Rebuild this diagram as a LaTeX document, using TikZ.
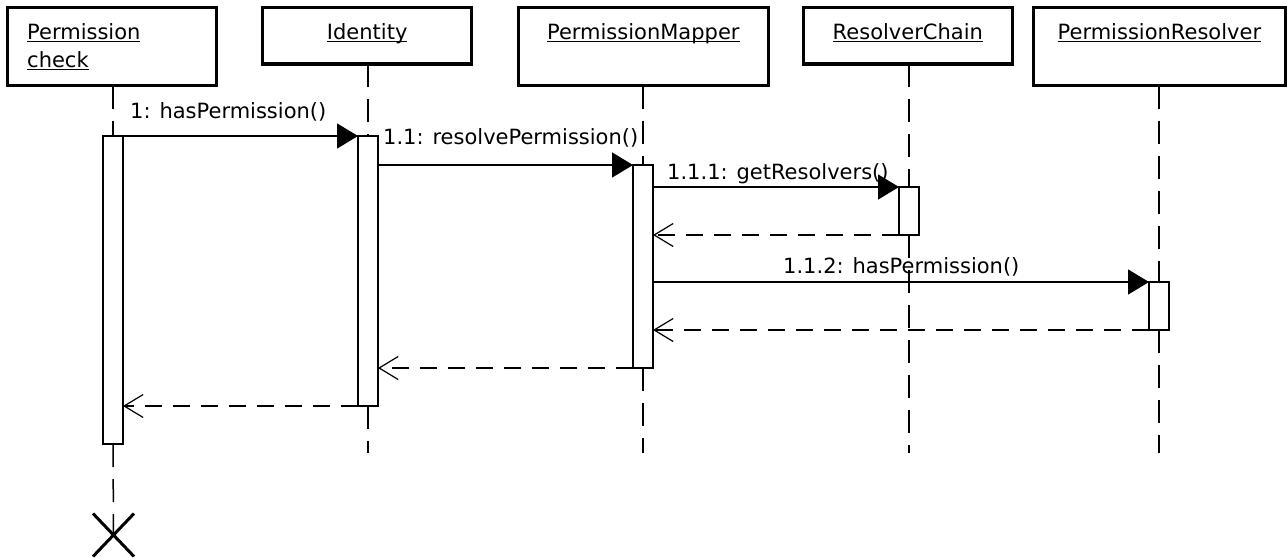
\documentclass[tikz,border=0pt]{standalone}
\usepackage{fontspec}
\setmainfont{DejaVu Sans}
\usetikzlibrary{arrows.meta,shapes.misc}
\newcommand\ulin[1]{\setbox0\hbox{#1}\rlap{\rule[-2.8pt]{\wd0}{1.2pt}}\box0}
\begin{document}
\begin{tikzpicture}[x=1pt,y=-1pt,
  headbox/.style={draw, line width=3.3pt, inner sep=0pt, outer sep=0pt},
  lbl/.style={inner sep=0pt, font=\fontsize{21}{27}\selectfont},
  act/.style={draw, fill=white, line width=1.5pt, minimum width=20pt, inner sep=0pt, outer sep=0pt, anchor=north},
  life/.style={line width=1.5pt, dash pattern=on 23pt off 12pt},
  call/.style={line width=1.5pt, -{Triangle[length=21pt,width=25pt]}},
  ret/.style={line width=1.5pt, dash pattern=on 17pt off 11pt, -{Straight Barb[length=19pt,width=23pt,line width=1.2pt]}},
  killmark/.style={draw, cross out, line width=3pt, minimum width=38pt, minimum height=40pt, inner sep=0pt}
]
\useasboundingbox (0,0) rectangle (1287,557);

% header boxes
\node[headbox, minimum width=208.8pt, minimum height=77.8pt] (hpc) at (112.1,46.6) {};
\node[headbox, minimum width=209pt, minimum height=56.3pt] (hid) at (367.2,35.85) {};
\node[headbox, minimum width=250pt, minimum height=77.8pt] (hpm) at (643.3,46.6) {};
\node[headbox, minimum width=209pt, minimum height=56.3pt] (hrc) at (907.8,35.85) {};
\node[headbox, minimum width=252pt, minimum height=77.8pt] (hpr) at (1159.3,46.6) {};

% header texts
\node[lbl, anchor=base west] (tpc1) at (27,39) {\ulin{Permission}};
\node[lbl, anchor=base west] (tpc2) at (27,67) {\ulin{check}};
\node[lbl, anchor=base] (tid) at (367.2,39) {\ulin{Identity}};
\node[lbl, anchor=base] (tpm) at (643.3,39) {\ulin{PermissionMapper}};
\node[lbl, anchor=base] (trc) at (907.8,39) {\ulin{ResolverChain}};
\node[lbl, anchor=base] (tpr) at (1159.4,39) {\ulin{PermissionResolver}};

% end points of lifelines
\node[killmark] (kill) at (113.5,535) {};
\coordinate (eid) at (368,453);
\coordinate (epm) at (643,453);
\coordinate (erc) at (909,453);
\coordinate (epr) at (1159,453);

% activation positions (for lifelines)
\coordinate (apcTop) at (113,136);
\coordinate (aidTop) at (368,136);
\coordinate (apmTop) at (643,165);
\coordinate (arcTop) at (909,187);
\coordinate (aprTop) at (1159,282);

% lifelines (upper parts)
\draw[life] (apcTop |- hpc.south) -- (apcTop);
\draw[life] (aidTop |- hid.south) -- (aidTop);
\draw[life] (apmTop |- hpm.south) -- (apmTop);
\draw[life] (arcTop |- hrc.south) -- (arcTop);
\draw[life] (aprTop |- hpr.south) -- (aprTop);

% activation bars
\node[act, minimum height=308pt] (apc) at (apcTop) {};
\node[act, minimum height=270pt] (aid) at (aidTop) {};
\node[act, minimum height=203pt] (apm) at (apmTop) {};
\node[act, minimum height=48pt] (arc) at (arcTop) {};
\node[act, minimum height=48pt] (apr) at (aprTop) {};

% lifelines (lower parts)
\draw[life] (apc.south) -- (kill.center);
\draw[life] (aid.south) -- (eid);
\draw[life] (apm.south) -- (epm);
\draw[life] (arc.south) -- (erc);
\draw[life] (apr.south) -- (epr);

% messages
\draw[call] (apc.north east) -- (aid.north west);
\draw[call] (aid.east |- apm.north) -- (apm.north west);
\draw[call] (apm.east |- arc.north) -- (arc.north west);
\draw[ret] (arc.south west) -- (apm.east |- arc.south);
\draw[call] (apm.east |- apr.north) -- (apr.north west);
\draw[ret] (apr.south west) -- (apm.east |- apr.south);
\draw[ret] (apm.south west) -- (aid.east |- apm.south);
\draw[ret] (aid.south west) -- (apc.east |- aid.south);

% message labels
\node[lbl, anchor=base west] (l1) at (130,118) {1: hasPermission()};
\node[lbl, anchor=base west] (l2) at (383,144) {1.1: resolvePermission()};
\node[lbl, anchor=base west] (l3) at (667,179) {1.1.1: getResolvers()};
\node[lbl, anchor=base west] (l4) at (783,273) {1.1.2: hasPermission()};
\end{tikzpicture}
\end{document}
